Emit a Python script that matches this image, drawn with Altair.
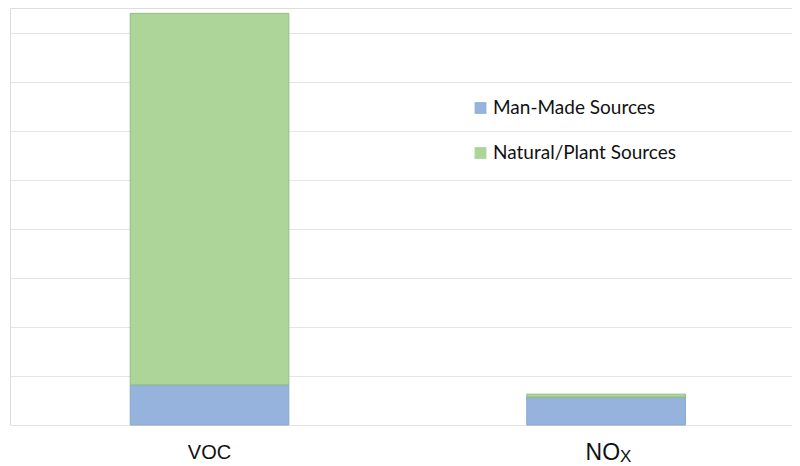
import altair as alt
import pandas as pd

categories = ["VOC", "NOx"]
series = ["Man-Made Sources", "Natural/Plant Sources"]
man_made = [0.82, 0.57]
natural = [7.59, 0.06]
grid_values = [0, 1, 2, 3, 4, 5, 6, 7, 8]

colors = ["#95B3DC", "#ADD59A"]
strokes = ["#86A6D2", "#8FBF7C"]

rows = []
for i, c in enumerate(categories):
    rows.append({"category": c, "source": series[0], "value": man_made[i], "ord": 0})
    rows.append({"category": c, "source": series[1], "value": natural[i], "ord": 1})
df = pd.DataFrame(rows)

xscale = alt.Scale(domain=categories, paddingInner=0.6, paddingOuter=0.286, align=0.53)

bars = alt.Chart(df).mark_bar(strokeWidth=1).encode(
    x=alt.X("category:N", scale=xscale, axis=None, sort=categories),
    y=alt.Y("value:Q", stack="zero",
            scale=alt.Scale(domain=[0, 8.52], nice=False, zero=True),
            axis=alt.Axis(values=grid_values, labels=False, ticks=False, domain=False,
                          title=None, grid=True, gridColor="#e6e3e3", gridWidth=1)),
    color=alt.Color("source:N", scale=alt.Scale(domain=series, range=colors),
                    legend=alt.Legend(orient="none", legendX=461, legendY=90, title=None,
                                      symbolType="square", symbolSize=140, symbolStrokeWidth=0,
                                      labelFont="Lato", labelFontSize=19, labelColor="#111111",
                                      labelOffset=3, labelLimit=400, rowPadding=25, clipHeight=20,
                                      padding=0)),
    stroke=alt.Stroke("source:N", scale=alt.Scale(domain=series, range=strokes), legend=None),
    order=alt.Order("ord:Q"),
)

lab_df = pd.DataFrame({"category": categories, "main": ["VOC", "NO"], "sub": ["", "X"]})

voc = alt.Chart(lab_df[lab_df.category == "VOC"]).mark_text(
    font="Liberation Sans", fontSize=20, align="center", baseline="alphabetic", color="#111111"
).encode(x=alt.X("category:N", scale=xscale, sort=categories), y=alt.value(451), text="main:N")

no_main = alt.Chart(lab_df[lab_df.category == "NOx"]).mark_text(
    font="Liberation Sans", fontSize=23, align="right", baseline="alphabetic", dx=14, color="#111111"
).encode(x=alt.X("category:N", scale=xscale, sort=categories), y=alt.value(452), text="main:N")

no_sub = alt.Chart(lab_df[lab_df.category == "NOx"]).mark_text(
    font="Liberation Sans", fontSize=17, align="left", baseline="alphabetic", dx=14, color="#111111"
).encode(x=alt.X("category:N", scale=xscale, sort=categories), y=alt.value(454), text="sub:N")

chart = alt.layer(bars, voc, no_main, no_sub).properties(
    width=782, height=417,
    autosize=alt.AutoSizeParams(type="none"),
    padding={"left": 2, "top": 0, "right": 0, "bottom": 50},
).configure_view(stroke=None).configure(background="white")

chart.save("out.html", embed_options={"renderer": "svg", "actions": False})
